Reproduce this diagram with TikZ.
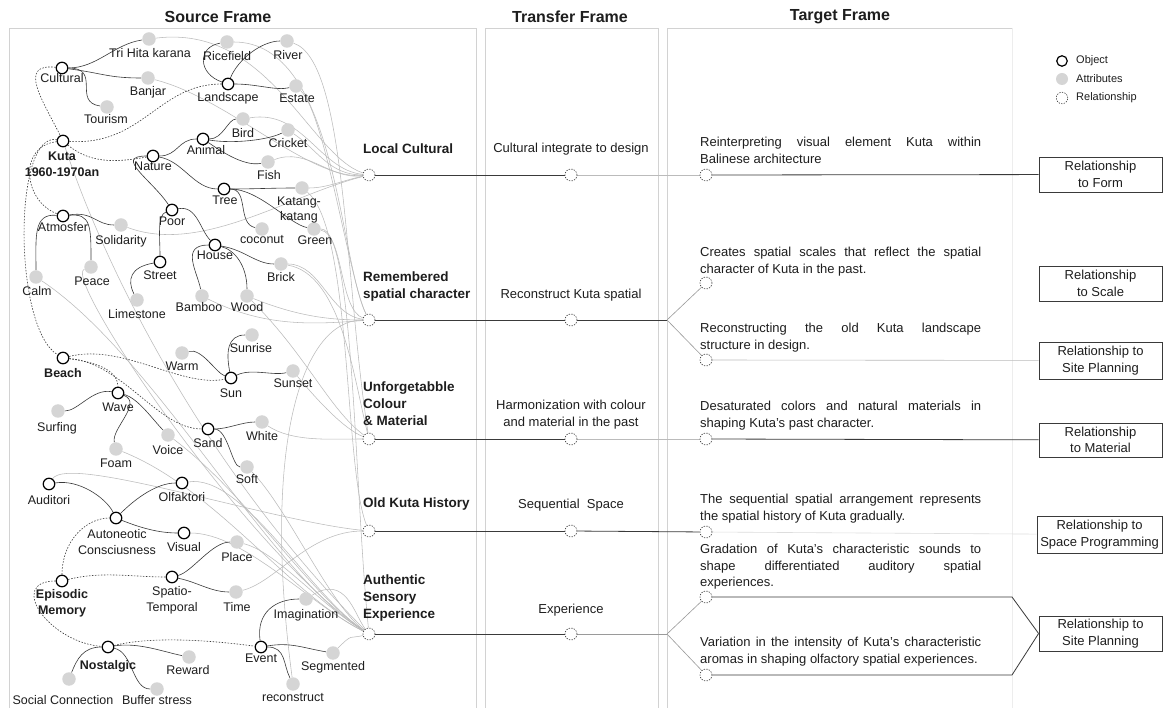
\documentclass[tikz,border=0pt]{standalone}
\usepackage{fontspec}
\setmainfont{Liberation Sans}
\usetikzlibrary{backgrounds}
\definecolor{ink}{HTML}{1E1E1E}
\definecolor{dk}{HTML}{3A3A3A}
\definecolor{lg}{HTML}{BBBBBB}
\definecolor{att}{HTML}{D5D5D5}
\definecolor{pan}{HTML}{D2D2D2}
\definecolor{mg}{HTML}{9A9A9A}
\begin{document}
\begin{tikzpicture}[x=1pt,y=-1pt,
 obj/.style={circle,draw=black,line width=1.2pt,fill=white,minimum size=11.5pt,inner sep=0pt},
 att/.style={circle,fill=att,minimum size=13.5pt,inner sep=0pt},
 rel/.style={circle,draw=dk,dash pattern=on 1.3pt off 1.3pt,line width=0.6pt,fill=white,minimum size=12pt,inner sep=0pt},
 lbl/.style={font=\fontsize{12.5}{16}\selectfont,text=ink,inner sep=0pt,align=center},
 blbl/.style={font=\fontsize{12.5}{16}\selectfont\bfseries,text=ink,inner sep=0pt,align=center},
 lk/.style={draw=dk,line width=0.6pt},
 dlk/.style={draw=dk,line width=0.6pt,dash pattern=on 1.5pt off 1.5pt},
 gl/.style={draw=lg,line width=0.55pt},
 ttl/.style={font=\fontsize{16}{18}\selectfont\bfseries,text=ink,inner sep=0pt},
 rtl/.style={font=\fontsize{13.5}{17}\selectfont\bfseries,text=ink,align=left,anchor=west,inner sep=0pt},
 ttxt/.style={font=\fontsize{13}{16.5}\selectfont,text=ink,align=center,inner sep=0pt},
 gtxt/.style={font=\fontsize{13}{16.5}\selectfont,text=ink,align=left,anchor=north west,inner sep=0pt},
 rbox/.style={draw=dk,line width=0.8pt,minimum width=123pt,minimum height=35pt,inner sep=0pt,font=\fontsize{13}{16.5}\selectfont,align=center,text=ink},
 leg/.style={font=\fontsize{11}{12}\selectfont,text=ink,anchor=west,inner sep=0pt},
 ml/.style={draw=dk,line width=0.8pt},
 bl/.style={draw=mg,line width=0.6pt},
 ll/.style={draw=lg,line width=0.6pt},
 pline/.style={draw=pan,line width=0.9pt}]
\useasboundingbox (0,0) rectangle (1163,708);

% titles
\node[ttl] (st) at (218,17) {Source Frame};
\node[ttl] (tt) at (570,17) {Transfer Frame};
\node[ttl] (gt) at (840,17) {Target Frame};

% ---------- objects ----------
\node[obj] (cultural) at (62,68) {};
\node[obj] (landscape) at (228,84) {};
\node[obj] (kuta) at (63,141) {};
\node[obj] (animal) at (203,139) {};
\node[obj] (nature) at (153,156) {};
\node[obj] (tree) at (224,189) {};
\node[obj] (atmosfer) at (63,216) {};
\node[obj] (poor) at (172,210) {};
\node[obj] (house) at (215,245) {};
\node[obj] (street) at (160,262) {};
\node[obj] (beach) at (63,358) {};
\node[obj] (sun) at (231,378) {};
\node[obj] (wave) at (118,393) {};
\node[obj] (sand) at (208,429) {};
\node[obj] (auditori) at (49,484) {};
\node[obj] (olfaktori) at (182,483) {};
\node[obj] (autoneotic) at (116,518) {};
\node[obj] (visual) at (184,533) {};
\node[obj] (episodic) at (62,581) {};
\node[obj] (spatio) at (172,577) {};
\node[obj] (nostalgic) at (108,647) {};
\node[obj] (event) at (261,647) {};

% ---------- attributes ----------
\node[att] (trihita) at (149,39) {};
\node[att] (ricefield) at (227,42) {};
\node[att] (river) at (287,41) {};
\node[att] (banjar) at (148,78) {};
\node[att] (estate) at (296,86) {};
\node[att] (tourism) at (107,107) {};
\node[att] (bird) at (243,119) {};
\node[att] (cricket) at (288,130) {};
\node[att] (fish) at (268,162) {};
\node[att] (katang) at (302,188) {};
\node[att] (solidarity) at (121,225) {};
\node[att] (coconut) at (262,229) {};
\node[att] (green) at (314,229) {};
\node[att] (peace) at (91,267) {};
\node[att] (brick) at (281,264) {};
\node[att] (calm) at (36,277) {};
\node[att] (limestone) at (137,300) {};
\node[att] (bamboo) at (202,296) {};
\node[att] (wood) at (247,296) {};
\node[att] (sunrise) at (252,335) {};
\node[att] (warm) at (182,353) {};
\node[att] (sunset) at (293,371) {};
\node[att] (surfing) at (58,411) {};
\node[att] (white) at (262,422) {};
\node[att] (voice) at (168,435) {};
\node[att] (foam) at (116,449) {};
\node[att] (soft) at (247,467) {};
\node[att] (place) at (237,542) {};
\node[att] (time) at (236,592) {};
\node[att] (imagination) at (306,599) {};
\node[att] (reward) at (189,657) {};
\node[att] (segmented) at (333,653) {};
\node[att] (social) at (69,679) {};
\node[att] (buffer) at (157,689) {};
\node[att] (reconstruct) at (293,684) {};

% ---------- labels ----------
\node[lbl] (cultural-l) at (62,78) {Cultural};
\node[lbl] (landscape-l) at (228,98) {Landscape};
\node[blbl] (kuta-l) at (62,164) {Kuta\\1960-1970an};
\node[lbl] (animal-l) at (206,150) {Animal};
\node[lbl] (nature-l) at (153,166) {Nature};
\node[lbl] (tree-l) at (225,200) {Tree};
\node[lbl] (atmosfer-l) at (63,227) {Atmosfer};
\node[lbl] (poor-l) at (172,221) {Poor};
\node[lbl] (house-l) at (215,255) {House};
\node[lbl] (street-l) at (160,275) {Street};
\node[blbl] (beach-l) at (63,373) {Beach};
\node[lbl] (sun-l) at (231,393) {Sun};
\node[lbl] (wave-l) at (118,407) {Wave};
\node[lbl] (sand-l) at (208,443) {Sand};
\node[lbl] (auditori-l) at (49,500) {Auditori};
\node[lbl] (olfaktori-l) at (182,497) {Olfaktori};
\node[lbl] (autoneotic-l) at (117,542) {Autoneotic\\Consciusness};
\node[lbl] (visual-l) at (184,547) {Visual};
\node[blbl] (episodic-l) at (62,603) {Episodic\\Memory};
\node[lbl] (spatio-l) at (172,600) {Spatio-\\Temporal};
\node[blbl] (nostalgic-l) at (108,666) {Nostalgic};
\node[lbl] (event-l) at (261,658) {Event};
\node[lbl] (trihita-l) at (150,53) {Tri Hita karana};
\node[lbl] (ricefield-l) at (227,56) {Ricefield};
\node[lbl] (river-l) at (288,55) {River};
\node[lbl] (banjar-l) at (148,92) {Banjar};
\node[lbl] (estate-l) at (297,98) {Estate};
\node[lbl] (tourism-l) at (106,119) {Tourism};
\node[lbl] (bird-l) at (243,133) {Bird};
\node[lbl] (cricket-l) at (288,143) {Cricket};
\node[lbl] (fish-l) at (269,175) {Fish};
\node[lbl] (katang-l) at (299,210) {Katang-\\katang};
\node[lbl] (solidarity-l) at (121,241) {Solidarity};
\node[lbl] (coconut-l) at (262,240) {coconut};
\node[lbl] (green-l) at (315,240) {Green};
\node[lbl] (peace-l) at (92,281) {Peace};
\node[lbl] (brick-l) at (281,277) {Brick};
\node[lbl] (calm-l) at (37,291) {Calm};
\node[lbl] (limestone-l) at (137,314) {Limestone};
\node[lbl] (bamboo-l) at (199,307) {Bamboo};
\node[lbl] (wood-l) at (247,307) {Wood};
\node[lbl] (sunrise-l) at (251,348) {Sunrise};
\node[lbl] (warm-l) at (182,366) {Warm};
\node[lbl] (sunset-l) at (293,383) {Sunset};
\node[lbl] (surfing-l) at (57,428) {Surfing};
\node[lbl] (white-l) at (262,436) {White};
\node[lbl] (voice-l) at (168,450) {Voice};
\node[lbl] (foam-l) at (116,463) {Foam};
\node[lbl] (soft-l) at (247,479) {Soft};
\node[lbl] (place-l) at (237,557) {Place};
\node[lbl] (time-l) at (237,607) {Time};
\node[lbl] (imagination-l) at (306,615) {Imagination};
\node[lbl] (reward-l) at (188,670) {Reward};
\node[lbl] (segmented-l) at (333,667) {Segmented};
\node[lbl] (social-l) at (63,700) {Social Connection};
\node[lbl] (buffer-l) at (157,700) {Buffer stress};
\node[lbl] (reconstruct-l) at (293,698) {reconstruct};

% ---------- relationship column ----------
\node[rtl] (r1-l) at (363,149) {Local Cultural};
\node[rtl] (r2-l) at (363,286.5) {Remembered\\spatial character};
\node[rtl] (r3-l) at (363,404) {Unforgetabble\\Colour\\\& Material};
\node[rtl] (r4-l) at (363,504) {Old Kuta History};
\node[rtl] (r5-l) at (363,598) {Authentic\\Sensory\\Experience};
\node[rel] (r1) at (369,175) {};
\node[rel] (r2) at (369,320) {};
\node[rel] (r3) at (369,439) {};
\node[rel] (r4) at (369,531) {};
\node[rel] (r5) at (369,634) {};

% ---------- transfer column ----------
\node[ttxt] (t1-l) at (571,149) {Cultural integrate to design};
\node[ttxt] (t2-l) at (571,295) {Reconstruct Kuta spatial};
\node[ttxt] (t3-l) at (571,414.5) {Harmonization with colour\\and material in the past};
\node[ttxt] (t4-l) at (571,505) {Sequential\ \ Space};
\node[ttxt] (t5-l) at (571,610) {Experience};
\node[rel] (t1) at (571,175) {};
\node[rel] (t2) at (571,320) {};
\node[rel] (t3) at (571,439) {};
\node[rel] (t4) at (571,531) {};
\node[rel] (t5) at (571,634) {};

% ---------- target column ----------
\node[gtxt] (g1-l) at (700,137) {\makebox[281pt][s]{Reinterpreting visual element Kuta within}\\Balinese architecture};
\node[gtxt] (g2a-l) at (700,247) {\makebox[281pt][s]{Creates spatial scales that reflect the spatial}\\character of Kuta in the past.};
\node[gtxt] (g2b-l) at (700,323) {\makebox[281pt][s]{Reconstructing the old Kuta landscape}\\structure in design.};
\node[gtxt] (g3-l) at (700,401) {\makebox[281pt][s]{Desaturated colors and natural materials in}\\shaping Kuta’s past character.};
\node[gtxt] (g4-l) at (700,494) {\makebox[281pt][s]{The sequential spatial arrangement represents}\\the spatial history of Kuta gradually.};
\node[gtxt] (g5a-l) at (700,544) {\makebox[281pt][s]{Gradation of Kuta’s characteristic sounds to}\\\makebox[281pt][s]{shape differentiated auditory spatial}\\experiences.};
\node[gtxt] (g5b-l) at (700,637) {\makebox[281pt][s]{Variation in the intensity of Kuta’s characteristic}\\aromas in shaping olfactory spatial experiences.};
\node[rel] (g1) at (706,175) {};
\node[rel] (g2a) at (706,283) {};
\node[rel] (g2b) at (706,360) {};
\node[rel] (g3) at (706,439) {};
\node[rel] (g4) at (706,532) {};
\node[rel] (g5a) at (706,597) {};
\node[rel] (g5b) at (706,675) {};
\coordinate (j2) at (667,320);
\coordinate (j5) at (667,634);
\coordinate (k5a) at (1012,597);
\coordinate (k5b) at (1012,675);

% ---------- boxes ----------
\node[rbox] (b1) at (1100.5,174.5) {Relationship\\to Form};
\node[rbox] (b2) at (1100.5,283.5) {Relationship\\to Scale};
\node[rbox,minimum height=37pt] (b3) at (1100.5,360.5) {Relationship to\\Site Planning};
\node[rbox,minimum height=34pt] (b4) at (1100.5,440) {Relationship\\to Material};
\node[rbox,minimum width=125pt,minimum height=37pt] (b5) at (1099.5,534.5) {Relationship to\\Space Programming};
\node[rbox] (b6) at (1100.5,633.5) {Relationship to\\Site Planning};

% ---------- legend ----------
\node[obj,minimum size=10.5pt] (lg1) at (1062,61) {};
\node[leg] (lg1-l) at (1076,61) {Object};
\node[att,minimum size=12pt] (lg2) at (1062,79) {};
\node[leg] (lg2-l) at (1076,79) {Attributes};
\node[rel,minimum size=11.5pt] (lg3) at (1062,98) {};
\node[leg] (lg3-l) at (1076,98) {Relationship};

\begin{pgfonlayer}{background}
\fill[white] (0,0) rectangle (1163,708);
% panels
\draw[pline] (9,712) -- (9,28) -- (476,28) -- (476,712);
\draw[pline] (485,712) -- (485,28) -- (658,28) -- (658,712);
\draw[pline] (667,712) -- (667,28) -- (1012,28);
\draw[draw=pan!40,line width=0.9pt] (1012,28) -- (1012,712);

% ---- gray attribute -> relationship links ----
\draw[gl] (trihita) .. controls +(120,-15) and +(-60,-20) .. (r1);
\draw[gl] (banjar) .. controls +(80,20) and +(-60,5) .. (r1);
\draw[gl] (bird) .. controls +(60,-10) and +(-50,-5) .. (r1);
\draw[gl] (cricket) .. controls +(30,20) and +(-40,0) .. (r1);
\draw[gl] (fish) .. controls +(40,-15) and +(-40,5) .. (r1);
\draw[gl] (katang) .. controls +(25,0) and +(-25,5) .. (r1);
\draw[gl] (solidarity) .. controls +(80,30) and +(-80,20) .. (r1);
\draw[gl] (ricefield) .. controls +(110,0) and +(-30,-60) .. (r2);
\draw[gl] (estate) .. controls +(30,30) and +(-20,-40) .. (r2);
\draw[gl] (green) .. controls +(30,5) and +(-30,-10) .. (r2);
\draw[gl] (brick) .. controls +(40,0) and +(-40,-5) .. (r2);
\draw[gl] (wood) .. controls +(50,20) and +(-40,0) .. (r2);
\draw[gl] (bamboo) .. controls +(60,30) and +(-60,5) .. (r2);
\draw[gl] (reconstruct) .. controls (262,450) and (300,320) .. (r2);
\draw[gl] (white) .. controls +(30,20) and +(-40,0) .. (r3);
\draw[gl] (sunset) .. controls +(25,30) and +(-25,-10) .. (r3);
\draw[gl] (river) .. controls +(60,20) and +(-25,-160) .. (r3);
\draw[gl] (brick) .. controls +(60,10) and +(-15,-60) .. (r3);
\draw[gl] (wood) .. controls +(60,60) and +(-40,-30) .. (r3);
\draw[gl] (time) .. controls +(40,-10) and +(-60,0) .. (r4);
\draw[gl] (auditori) .. controls +(20,-30) and +(-100,-10) .. (r4);
\draw[gl] (katang) .. controls +(50,40) and +(-25,-60) .. (r4);
\draw[gl] (voice) .. controls +(80,60) and +(-60,-40) .. (r5);
\draw[gl] (foam) .. controls +(100,40) and +(-80,-40) .. (r5);
\draw[gl] (soft) .. controls +(40,40) and +(-40,-30) .. (r5);
\draw[gl] (calm) .. controls +(120,80) and +(-100,-60) .. (r5);
\draw[gl] (peace) .. controls +(-30,10) and +(-120,-80) .. (r5);
\draw[gl] (olfaktori) .. controls +(60,-10) and +(-60,-40) .. (r5);
\draw[gl] (visual) .. controls +(60,0) and +(-60,-30) .. (r5);
\draw[gl] (place) .. controls +(40,10) and +(-50,-30) .. (r5);
\draw[gl] (imagination) .. controls +(40,-25) and +(-15,-20) .. (r5);
\draw[gl] (segmented) .. controls +(20,-20) and +(-20,5) .. (r5);
\draw[gl] (green) .. controls +(40,0) and +(-15,-150) .. (r5);
\draw[gl] (kuta) .. controls +(50,150) and +(-150,-150) .. (r5);

% ---- dashed object hierarchy ----
\draw[dlk] (cultural) .. controls +(-45,-5) and +(-20,-40) .. (kuta);
\draw[dlk] (kuta) .. controls +(80,5) and +(-70,0) .. (landscape);
\draw[dlk] (kuta) .. controls +(30,25) and +(-30,5) .. (nature);
\draw[dlk] (kuta) .. controls +(-45,5) and +(-40,-15) .. (atmosfer);
\draw[dlk] (kuta) .. controls +(-50,-10) and +(-50,-30) .. (beach);
\draw[dlk] (beach) .. controls +(40,5) and +(0,-20) .. (wave);
\draw[dlk] (beach) .. controls +(60,-15) and +(-50,10) .. (sun);
\draw[dlk] (beach) .. controls +(60,5) and +(-50,0) .. (sand);
\draw[dlk] (episodic) .. controls +(0,-40) and +(-30,0) .. (autoneotic);
\draw[dlk] (episodic) .. controls +(40,-10) and +(-40,0) .. (spatio);
\draw[dlk] (episodic) .. controls +(-55,0) and +(-60,-5) .. (nostalgic);
\draw[dlk] (nostalgic) .. controls +(40,-10) and +(-60,-8) .. (event);

% ---- solid object -> attribute links ----
\draw[lk] (cultural) .. controls +(35,0) and +(-35,5) .. (trihita);
\draw[lk] (cultural) .. controls +(40,5) and +(-40,0) .. (banjar);
\draw[lk] (cultural) .. controls +(40,0) and +(-35,-5) .. (tourism);
\draw[lk] (landscape) .. controls +(-30,-10) and +(-30,5) .. (ricefield);
\draw[lk] (landscape) .. controls +(10,-25) and +(-25,0) .. (river);
\draw[lk] (landscape) .. controls +(30,0) and +(-20,5) .. (estate);
\draw[lk] (nature) .. controls +(25,0) and +(-25,0) .. (animal);
\draw[lk] (animal) .. controls +(20,0) and +(-15,0) .. (bird);
\draw[lk] (animal) .. controls +(30,5) and +(-20,10) .. (cricket);
\draw[lk] (animal) .. controls +(15,10) and +(-25,5) .. (fish);
\draw[lk] (nature) .. controls +(30,5) and +(-30,0) .. (tree);
\draw[lk] (tree) .. controls +(30,0) and +(-30,0) .. (katang);
\draw[lk] (tree) .. controls +(25,0) and +(-25,-5) .. (coconut);
\draw[lk] (tree) .. controls +(35,0) and +(-25,-5) .. (green);
\draw[lk] (nature) .. controls +(-40,0) and +(-20,-30) .. (poor);
\draw[lk] (poor) .. controls +(-15,5) and +(0,-25) .. (street);
\draw[lk] (poor) .. controls +(25,-5) and +(-15,-15) .. (house);
\draw[lk] (house) .. controls +(-35,0) and +(-5,-25) .. (bamboo);
\draw[lk] (house) .. controls +(20,5) and +(0,-30) .. (wood);
\draw[lk] (house) .. controls +(30,5) and +(-25,0) .. (brick);
\draw[lk] (street) .. controls +(-30,5) and +(-10,-20) .. (limestone);
\draw[lk] (atmosfer) .. controls +(30,-5) and +(-25,0) .. (solidarity);
\draw[lk] (atmosfer) .. controls +(28,-3) and +(0,-40) .. (peace);
\draw[lk] (atmosfer) .. controls +(-30,-3) and +(0,-40) .. (calm);
\draw[lk] (wave) .. controls +(-25,-5) and +(20,0) .. (surfing);
\draw[lk] (wave) .. controls +(25,10) and +(-5,-20) .. (foam);
\draw[lk] (wave) .. controls +(20,5) and +(-15,-15) .. (voice);
\draw[lk] (warm) .. controls +(20,-5) and +(-15,-5) .. (sun);
\draw[lk] (sun) .. controls +(-5,-25) and +(-25,0) .. (sunrise);
\draw[lk] (sun) .. controls +(20,-10) and +(-20,5) .. (sunset);
\draw[lk] (sand) .. controls +(20,0) and +(-20,0) .. (white);
\draw[lk] (sand) .. controls +(20,0) and +(-15,0) .. (soft);
\draw[lk] (auditori) .. controls +(30,-5) and +(-10,-20) .. (autoneotic);
\draw[lk] (autoneotic) .. controls +(20,-20) and +(-25,0) .. (olfaktori);
\draw[lk] (autoneotic) .. controls +(25,10) and +(-25,0) .. (visual);
\draw[lk] (spatio) .. controls +(20,-5) and +(-25,0) .. (place);
\draw[lk] (spatio) .. controls +(25,5) and +(-25,0) .. (time);
\draw[lk] (nostalgic) .. controls +(30,-5) and +(-25,-5) .. (reward);
\draw[lk] (nostalgic) .. controls +(-25,0) and +(8,-20) .. (social);
\draw[lk] (nostalgic) .. controls +(25,5) and +(-25,0) .. (buffer);
\draw[lk] (event) .. controls +(-5,-35) and +(-30,0) .. (imagination);
\draw[lk] (event) .. controls +(30,-5) and +(-30,-5) .. (segmented);
\draw[lk] (event) .. controls +(25,0) and +(-10,-20) .. (reconstruct);

% ---- chains ----
\draw[ml] (r1) -- (t1);
\draw[ll] (t1) -- (g1);
\draw[ml] (g1) -- (b1);
\draw[ml] (r2) -- (t2);
\draw[ml] (t2) -- (j2);
\draw[bl] (j2) -- (g2a);
\draw[bl] (j2) -- (g2b);
\draw[ll] (g2b) -- (b3);
\draw[ml] (r3) -- (t3);
\draw[ll] (t3) -- (g3);
\draw[ml] (g3) -- (b4);
\draw[ml] (r4) -- (t4);
\draw[ml] (t4) -- (g4);
\draw[draw=lg!50,line width=0.6pt] (g4) -- (b5);
\draw[ml] (r5) -- (t5);
\draw[bl] (t5) -- (j5);
\draw[bl] (j5) -- (g5a);
\draw[bl] (j5) -- (g5b);
\draw[ml] (g5a) -- (k5a) -- (b6.west);
\draw[ml] (g5b) -- (k5b) -- (b6.west);
\end{pgfonlayer}
\end{tikzpicture}
\end{document}
